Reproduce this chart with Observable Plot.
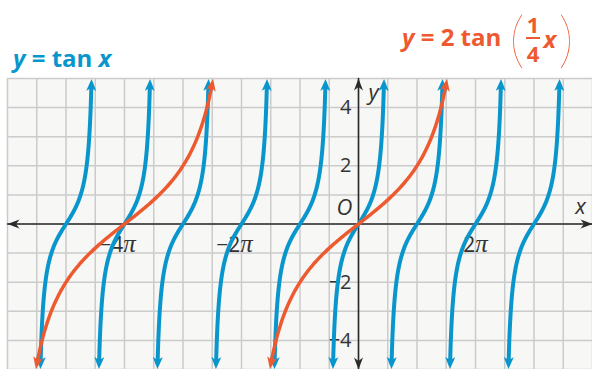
<!DOCTYPE html>
<html>
<head>
<meta charset="utf-8">
<script src="https://cdn.jsdelivr.net/npm/d3@7"></script>
<script src="https://cdn.jsdelivr.net/npm/@observablehq/plot@0.6"></script>
<style>
  html, body { margin: 0; padding: 0; background: #fff; }
  #wrap { position: relative; width: 592px; height: 369px; overflow: hidden; font-family: "Open Sans", "Noto Sans", sans-serif; }
  #chart { position: absolute; left: 0; top: 0; }
  .title { position: absolute; font-weight: 700; font-size: 24px; line-height: 24px; white-space: nowrap; }
  .title i { font-style: italic; }
  #t1 { color: #0996cc; left: 13px; top: 46px; }
  #t2 { color: #ee5a30; left: 402px; top: -3px; height: 80px; display: flex; align-items: center; }
  #t2 .paren { font-family: "Lato", sans-serif; font-weight: 100; font-size: 62px; line-height: 78px; }
  #t2 .frac { display: inline-flex; flex-direction: column; align-items: center; font-size: 22px; line-height: 22px; margin: 3px 3px 0 1px; }
  #t2 .frac .num { border-bottom: 2px solid #ee5a30; padding: 0 1px 2px; }
  #t2 .frac .den { padding-top: 3px; }
  #t2 .sp { display: inline-block; width: 8px; }
  #t2 .xv { margin-right: 2px; margin-top: 3px; }
</style>
</head>
<body>
<div id="wrap">
  <div id="chart"></div>
  <div class="title" id="t1"><i>y</i> = tan <i>x</i></div>
  <div class="title" id="t2"><span><i>y</i> = 2 tan</span><span class="sp"></span><span class="paren">(</span><span class="frac"><span class="num">1</span><span class="den">4</span></span><i class="xv">x</i><span class="paren">)</span></div>
</div>
<script>
const PI = Math.PI;

// Viewing window: x from −6π to 4π, y from −5 to 5
const xDomain = [-6 * PI, 4 * PI];
const yDomain = [-5, 5];

// Grid spacing: π/2 across, 1 unit up
const gridStepX = PI / 2;
const gridStepY = 1;

// Labelled ticks
const yTicks = [-4, -2, 2, 4];
const yTickLabels = ["−4", "−2", "2", "4"];
const xTickMultiples = [-4, -2, 2];          // multiples of π
const xTickLabels = ["−4π", "−2π", "2π"];

// Branch centres (multiples of π) for each function
const tanCenters = [-5, -4, -3, -2, -1, 0, 1, 2, 3];   // y = tan x
const scaledCenters = [-4, 0];                          // y = 2 tan(x/4)

// Each branch is drawn up to this |y| before its arrowhead
const branchEndY = 4.78;

const blue = "#0996cc";
const red = "#ee5a30";
const ink = "#2b2b2b";

// Sample one branch of y = a·tan((x − c)/b)
function branch(id, c, a, b) {
  const half = b * Math.atan(branchEndY / a);
  const n = 160;
  return d3.range(n + 1).map(i => {
    const x = c - half + (2 * half * i) / n;
    return {id, x, y: a * Math.tan((x - c) / b)};
  });
}

const tanPoints = tanCenters.flatMap(k => branch(`tan${k}`, k * PI, 1, 1));
const scaledPoints = scaledCenters.flatMap(k => branch(`s${k}`, k * PI, 2, 4));

const gridX = d3.range(Math.round(xDomain[0] / gridStepX), Math.round(xDomain[1] / gridStepX) + 1).map(k => k * gridStepX);
const gridY = d3.range(yDomain[0], yDomain[1] + gridStepY, gridStepY);

// Filled, swept arrowhead used as an SVG marker
function sweptArrow({len, wid, notch, ahead, start}) {
  return (color) => {
    const m = d3.create("svg:marker")
      .attr("viewBox", "-30 -15 60 30")
      .attr("markerWidth", 60)
      .attr("markerHeight", 30)
      .attr("markerUnits", "userSpaceOnUse")
      .attr("refX", 0)
      .attr("refY", 0)
      .attr("orient", start ? "auto-start-reverse" : "auto")
      .style("overflow", "visible");
    m.append("path")
      .attr("d", `M${ahead},0L${ahead - len},${-wid / 2}L${ahead - len + notch},0L${ahead - len},${wid / 2}Z`)
      .attr("fill", color)
      .attr("stroke", "none");
    return m.node();
  };
}

const curveHead = {len: 12, wid: 10, notch: 3, ahead: 6};
const axisHead = {len: 12, wid: 9, notch: 3.5, ahead: 0};

const xAxisLine = [{x: xDomain[0], y: 0}, {x: xDomain[1], y: 0}];
const yAxisLine = [{x: 0, y: yDomain[0]}, {x: 0, y: yDomain[1]}];

const chart = Plot.plot({
  width: 592,
  height: 369,
  marginTop: 78,
  marginLeft: 7,
  marginRight: 0,
  marginBottom: 0,
  x: {domain: xDomain, axis: null},
  y: {domain: yDomain, axis: null},
  style: {background: "transparent", fontFamily: "'Open Sans', 'Noto Sans', sans-serif"},
  marks: [
    Plot.frame({fill: "#f7f7f5", stroke: null}),
    Plot.ruleX(gridX, {stroke: "#cbcbcb", strokeWidth: 1.5}),
    Plot.ruleY(gridY, {stroke: "#cbcbcb", strokeWidth: 1.5}),
    // Axes with arrowheads
    Plot.line(xAxisLine, {x: "x", y: "y", stroke: ink, strokeWidth: 1.6,
      markerStart: sweptArrow({...axisHead, start: true}), markerEnd: sweptArrow(axisHead)}),
    Plot.line(yAxisLine, {x: "x", y: "y", stroke: ink, strokeWidth: 1.6,
      markerStart: sweptArrow({...axisHead, start: true}), markerEnd: sweptArrow(axisHead)}),
    // Tick labels
    Plot.text(yTicks, {x: 0, y: d => d, text: (d, i) => yTickLabels[i], textAnchor: "end", dx: -7, fontSize: 20, fill: "#333"}),
    Plot.text(xTickMultiples, {x: d => d * PI, y: 0, text: (d, i) => xTickLabels[i], dy: 21, fontSize: 21, fill: "#333"}),
    // Axis names and origin
    Plot.text(["O"], {x: 0, y: 0, text: d => d, dx: -14, dy: -16, fontSize: 22, fontStyle: "italic", fill: "#333"}),
    Plot.text(["x"], {x: xDomain[1], y: 0, text: d => d, dx: -12, dy: -17, fontSize: 22, fontStyle: "italic", fill: "#333"}),
    Plot.text(["y"], {x: 0, y: yDomain[1], text: d => d, dx: 15, dy: 14, fontSize: 22, fontStyle: "italic", fill: "#333"}),
    // y = tan x
    Plot.line(tanPoints, {x: "x", y: "y", z: "id", stroke: blue, strokeWidth: 4,
      markerStart: sweptArrow({...curveHead, start: true}), markerEnd: sweptArrow(curveHead)}),
    // y = 2 tan(x/4)
    Plot.line(scaledPoints, {x: "x", y: "y", z: "id", stroke: red, strokeWidth: 3.5,
      markerStart: sweptArrow({...curveHead, start: true}), markerEnd: sweptArrow(curveHead)})
  ]
});

// π tick labels: set π in an italic serif, and shift negative ones so the digit sits on its grid line
d3.select(chart).selectAll("text").each(function () {
  const t = this.textContent;
  if (t.endsWith("π")) {
    const sel = d3.select(this);
    sel.text(t.slice(0, -1));
    sel.append("tspan")
      .attr("font-family", "'Liberation Serif', 'DejaVu Serif', serif")
      .attr("font-style", "italic")
      .attr("font-size", 25)
      .text("π");
    if (t.startsWith("−")) sel.attr("dx", -7);
  }
});

document.getElementById("chart").appendChild(chart);
</script>
</body>
</html>
